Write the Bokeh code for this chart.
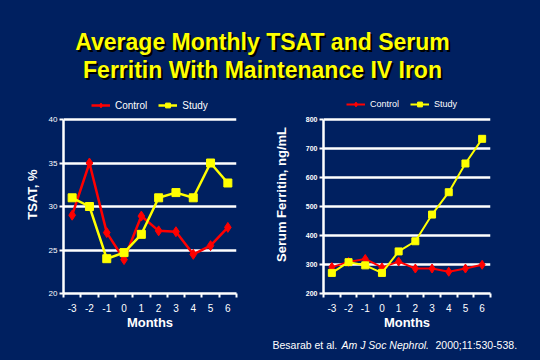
from bokeh.plotting import figure
from bokeh.models import Range1d, FixedTicker, Legend, LegendItem, Label
from bokeh.layouts import column, row
from bokeh.embed import file_html
from bokeh.resources import INLINE

NAVY = "#002060"
FONT = "Liberation Sans"

months = [-3, -2, -1, 0, 1, 2, 3, 4, 5, 6]
month_labels = ["-3", "-2", "-1", "0", "1", "2", "3", "4", "5", "6"]

tsat_control = [29.0, 35.0, 27.0, 23.9, 28.9, 27.2, 27.1, 24.5, 25.5, 27.6]
tsat_study = [31.0, 30.0, 24.0, 24.7, 26.8, 31.0, 31.6, 31.0, 35.0, 32.7]
tsat_ticks = [20, 25, 30, 35, 40]

ferritin_control = [291, 309, 319, 290, 310, 286, 286, 275, 286, 299]
ferritin_study = [271, 308, 297, 271, 345, 380, 472, 549, 648, 733]
ferritin_ticks = [200, 300, 400, 500, 600, 700, 800]

series_names = ["Control", "Study"]
title_lines = ["Average Monthly TSAT and Serum", "Ferritin With Maintenance IV Iron"]
citation_parts = ["Besarab et al.", "Am J Soc Nephrol.", "2000;11:530-538."]


def chart(ctrl, study, yticks, ylabel, borders, frame_h, legend_loc, lw, msize, ytick_font,
          ytick_style, leg_font):
    left, right, top, bottom = borders
    # the frame reaches up to the figure top so the legend (drawn inside the frame)
    # can sit above the top gridline; the axis line is bounded to the tick range
    span = yticks[-1] - yticks[0]
    y_end = yticks[-1] + span * top / frame_h
    p = figure(width=270, height=240, x_range=Range1d(months[0] - 0.5, months[-1] + 0.5),
               y_range=Range1d(yticks[0], y_end), output_backend="svg",
               toolbar_location=None, min_border_left=left, min_border_right=right,
               min_border_top=0, min_border_bottom=bottom)
    p.background_fill_color = NAVY
    p.border_fill_color = NAVY
    p.outline_line_color = None

    bounds = [m - 0.5 for m in months] + [months[-1] + 0.5]
    xt = FixedTicker(ticks=months, minor_ticks=bounds)
    yt = FixedTicker(ticks=yticks, minor_ticks=[])
    p.xaxis.ticker = xt
    p.yaxis.ticker = yt
    p.yaxis.bounds = (yticks[0], yticks[-1])
    p.xgrid.visible = False
    p.ygrid.ticker = yt
    p.ygrid.grid_line_color = "white"
    p.ygrid.grid_line_width = 2.5

    p.xaxis.major_label_overrides = {m: s for m, s in zip(months, month_labels)}
    for ax in (p.xaxis[0], p.yaxis[0]):
        ax.axis_line_color = "white"
        ax.axis_line_width = 2.5
        ax.major_tick_line_color = "white"
        ax.major_tick_line_width = 2
        ax.minor_tick_line_color = "white"
        ax.minor_tick_line_width = 2
        ax.major_label_text_color = "white"
        ax.major_label_text_font = FONT
        ax.axis_label_text_color = "white"
        ax.axis_label_text_font = FONT
        ax.axis_label_text_font_style = "bold"
        ax.axis_label_text_font_size = "13px"
    xa = p.xaxis[0]
    xa.major_tick_out = 0
    xa.major_tick_in = 0
    xa.minor_tick_out = 4
    xa.minor_tick_in = 0
    xa.major_label_text_font_size = "10px"
    xa.major_label_standoff = 6
    xa.axis_label = "Months"
    xa.axis_label_standoff = 0
    ya = p.yaxis[0]
    ya.major_tick_out = 4
    ya.major_tick_in = 0
    ya.minor_tick_out = 0
    ya.minor_tick_in = 0
    ya.major_label_text_font_size = ytick_font
    ya.major_label_text_font_style = ytick_style
    ya.major_label_standoff = 2
    ya.axis_label = ylabel
    ya.axis_label_standoff = 6

    r1 = p.line(months, ctrl, line_color="#FF0000", line_width=lw)
    s1 = p.scatter(months, ctrl, marker="diamond", size=msize + 2, color="#FF0000")
    r2 = p.line(months, study, line_color="#FFFF00", line_width=lw)
    s2 = p.scatter(months, study, marker="square", size=msize, color="#FFFF00")

    legend = Legend(items=[LegendItem(label=series_names[0], renderers=[r1, s1]),
                           LegendItem(label=series_names[1], renderers=[r2, s2])],
                    location=legend_loc, orientation="horizontal",
                    background_fill_alpha=0, border_line_color=None,
                    label_text_color="white", label_text_font=FONT,
                    label_text_font_size=leg_font, glyph_width=19, glyph_height=12,
                    label_standoff=5, spacing=11, padding=2, margin=0, label_height=12)
    p.add_layout(legend)
    return p


left = chart(tsat_control, tsat_study, tsat_ticks, "TSAT, %", (63, 34, 24, 42), 174,
             (28, 182), 2.5, 8, "8px", "normal", "10px")
right = chart(ferritin_control, ferritin_study, ferritin_ticks, "Serum Ferritin, ng/mL",
              (52, 50, 24, 41), 175, (23, 183), 2, 7, "7px", "bold", "9px")
right.yaxis[0].axis_label_standoff = 14

# Title
top = figure(width=540, height=95, x_range=Range1d(0, 540), y_range=Range1d(95, 0),
             output_backend="svg", toolbar_location=None, x_axis_type=None,
             y_axis_type=None, min_border=0)
top.background_fill_color = NAVY
top.border_fill_color = NAVY
top.outline_line_color = None
top.xgrid.visible = False
top.ygrid.visible = False
for line, yb in zip(title_lines, [41, 69.5]):
    for dx, col in ((2, "black"), (0, "#FFFF00")):
        top.add_layout(Label(x=262 + dx, y=yb + dx, text=line, text_align="center",
                             text_baseline="alphabetic", text_font=FONT,
                             text_font_style="bold", text_font_size="23px", text_color=col))

# Citation
bot = figure(width=540, height=25, x_range=Range1d(0, 540), y_range=Range1d(25, 0),
             output_backend="svg", toolbar_location=None, x_axis_type=None,
             y_axis_type=None, min_border=0)
bot.background_fill_color = NAVY
bot.border_fill_color = NAVY
bot.outline_line_color = None
bot.xgrid.visible = False
bot.ygrid.visible = False
for txt, xx, style in zip(citation_parts, [272, 341, 435], ["normal", "italic", "normal"]):
    bot.add_layout(Label(x=xx, y=9, text=txt, text_align="left", text_baseline="alphabetic",
                         text_font=FONT, text_font_style=style, text_font_size="10.5px",
                         text_color="white"))

layout = column(top, row(left, right, spacing=0), bot, spacing=0,
                styles={"background-color": NAVY})
open("out.html", "w").write(file_html(layout, INLINE))
